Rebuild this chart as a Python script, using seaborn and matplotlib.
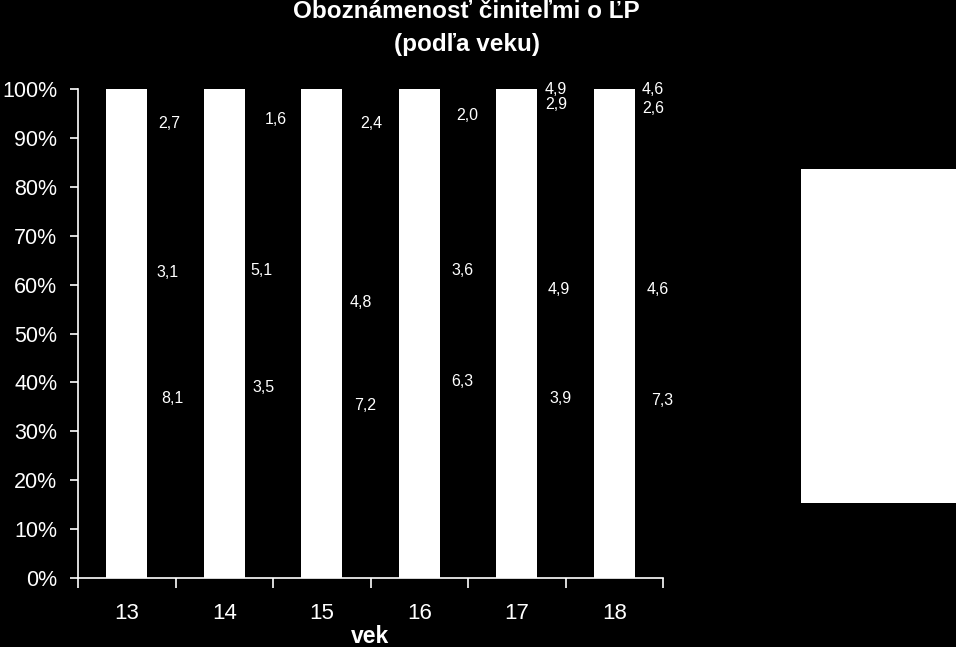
import matplotlib
matplotlib.use("Agg")
import matplotlib.pyplot as plt
from matplotlib.patches import Rectangle
from matplotlib.ticker import FixedLocator, FuncFormatter
import seaborn as sns
import pandas as pd

ages = ["13", "14", "15", "16", "17", "18"]
totals = [100, 100, 100, 100, 100, 100]

# value labels: category index, text, vertical position (%), horizontal offset (category units)
label_cat = [0, 0, 0,
             1, 1, 1,
             2, 2, 2,
             3, 3, 3,
             4, 4, 4, 4,
             5, 5, 5, 5]
label_txt = ["2,7", "3,1", "8,1",
             "1,6", "5,1", "3,5",
             "2,4", "4,8", "7,2",
             "2,0", "3,6", "6,3",
             "4,9", "2,9", "4,9", "3,9",
             "4,6", "2,6", "4,6", "7,3"]
label_y = [93.0, 62.4, 36.8,
           93.7, 62.8, 38.9,
           93.0, 56.4, 35.2,
           94.5, 62.8, 40.1,
           99.8, 96.9, 58.9, 36.8,
           99.8, 96.1, 58.9, 36.2]
label_dx = [0.44, 0.42, 0.47,
            0.53, 0.38, 0.40,
            0.51, 0.40, 0.44,
            0.49, 0.44, 0.44,
            0.40, 0.40, 0.43, 0.45,
            0.40, 0.40, 0.45, 0.49]

sns.set_theme(style="white")
plt.rcParams["font.family"] = ["Liberation Sans", "DejaVu Sans"]

fig = plt.figure(figsize=(9.56, 6.47), dpi=100, facecolor="black")
ax = fig.add_axes([78 / 956, 1 - 578 / 647, (663 - 78) / 956, (578 - 89) / 647])
ax.set_facecolor("black")

df = pd.DataFrame({"vek": ages, "val": totals})
sns.barplot(data=df, x="vek", y="val", color="white", width=0.42,
            saturation=1, edgecolor="none", ax=ax)

for c, t, y, dx in zip(label_cat, label_txt, label_y, label_dx):
    ax.text(c + dx, y, t, color="white", fontsize=11.5, ha="center", va="center")

ax.set_xlim(-0.5, 5.5)
ax.set_ylim(0, 100)
ax.yaxis.set_major_locator(FixedLocator(range(0, 101, 10)))
ax.yaxis.set_major_formatter(FuncFormatter(lambda v, p: f"{int(v)}%"))
ax.xaxis.set_minor_locator(FixedLocator([i - 0.5 for i in range(7)]))

for s in ["top", "right"]:
    ax.spines[s].set_visible(False)
for s in ["left", "bottom"]:
    ax.spines[s].set_color("white")
    ax.spines[s].set_linewidth(1.2)

ax.tick_params(axis="y", colors="white", labelsize=15.5, length=6, width=1.2,
               direction="out", left=True, pad=9)
ax.tick_params(axis="x", which="major", colors="white", labelsize=16, length=0, pad=18)
ax.tick_params(axis="x", which="minor", colors="white", length=7, width=1.2,
               direction="out", bottom=True)
ax.set_xlabel("vek", color="white", fontsize=16.5, fontweight="bold", labelpad=0.5)
ax.set_ylabel("")

fig.text(466 / 956, 1 - 12 / 647, "Oboznámenosť činiteľmi o ĽP", color="white",
         fontsize=17.5, fontweight="bold", ha="center", va="center")
fig.text(467 / 956, 1 - 44 / 647, "(podľa veku)", color="white",
         fontsize=17.5, fontweight="bold", ha="center", va="center")

fig.patches.append(Rectangle((801 / 956, 1 - 503 / 647), (956 - 801) / 956, (503 - 169) / 647,
                             transform=fig.transFigure, facecolor="white",
                             edgecolor="none", figure=fig))

fig.savefig("out.png", dpi=100, facecolor="black")
